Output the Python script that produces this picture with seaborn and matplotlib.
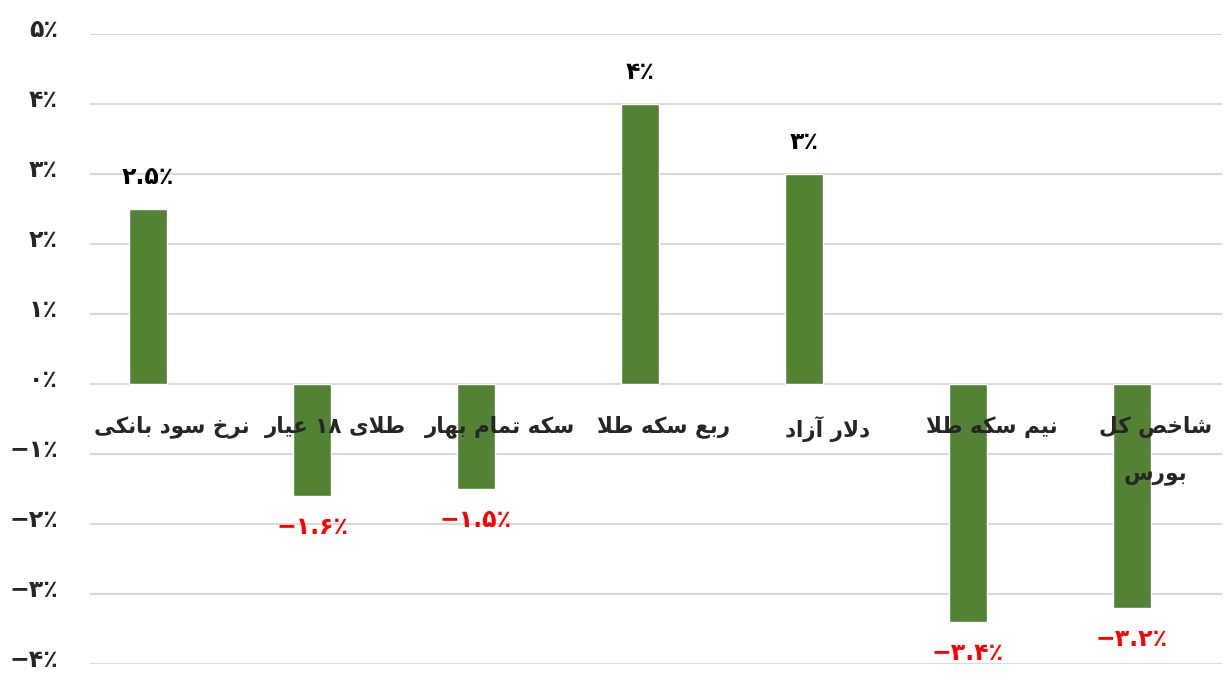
import re
import numpy as np
import pandas as pd
import matplotlib.pyplot as plt
import matplotlib.transforms as mtrans
import seaborn as sns

categories = [
    "نرخ سود بانکی",
    "طلای ۱۸ عیار",
    "سکه تمام بهار",
    "ربع سکه طلا",
    "دلار آزاد",
    "نیم سکه طلا",
    "شاخص کل\nبورس",
]
values = [2.5, -1.6, -1.5, 4, 3, -3.4, -3.2]
yticks = [-4, -3, -2, -1, 0, 1, 2, 3, 4, 5]

bar_color = "#548235"
grid_color = "#d9d9d9"

# presentation forms: isolated, final, initial, medial
FORMS = {
    '\u0627': ('\uFE8D', '\uFE8E', None, None),
    '\u0622': ('\uFE81', '\uFE82', None, None),
    '\u0628': ('\uFE8F', '\uFE90', '\uFE91', '\uFE92'),
    '\u062A': ('\uFE95', '\uFE96', '\uFE97', '\uFE98'),
    '\u062E': ('\uFEA5', '\uFEA6', '\uFEA7', '\uFEA8'),
    '\u062F': ('\uFEA9', '\uFEAA', None, None),
    '\u0631': ('\uFEAD', '\uFEAE', None, None),
    '\u0632': ('\uFEAF', '\uFEB0', None, None),
    '\u0633': ('\uFEB1', '\uFEB2', '\uFEB3', '\uFEB4'),
    '\u0634': ('\uFEB5', '\uFEB6', '\uFEB7', '\uFEB8'),
    '\u0635': ('\uFEB9', '\uFEBA', '\uFEBB', '\uFEBC'),
    '\u0637': ('\uFEC1', '\uFEC2', '\uFEC3', '\uFEC4'),
    '\u0639': ('\uFEC9', '\uFECA', '\uFECB', '\uFECC'),
    '\u0644': ('\uFEDD', '\uFEDE', '\uFEDF', '\uFEE0'),
    '\u0645': ('\uFEE1', '\uFEE2', '\uFEE3', '\uFEE4'),
    '\u0646': ('\uFEE5', '\uFEE6', '\uFEE7', '\uFEE8'),
    '\u0647': ('\uFEE9', '\uFEEA', '\uFEEB', '\uFEEC'),
    '\u0648': ('\uFEED', '\uFEEE', None, None),
    '\u06A9': ('\uFB8E', '\uFB8F', '\uFB90', '\uFB91'),
    '\u06CC': ('\uFBFC', '\uFBFD', '\uFBFE', '\uFBFF'),
    '\u0644\u0627': ('\uFEFB', '\uFEFC', None, None),
}


def shape_line(text):
    text = text.replace('\u0643', '\u06A9').replace('\u064A', '\u06CC')
    toks = []
    i = 0
    while i < len(text):
        if text[i] == '\u0644' and i + 1 < len(text) and text[i + 1] == '\u0627':
            toks.append('\u0644\u0627')
            i += 2
        else:
            toks.append(text[i])
            i += 1
    out = []
    for k, t in enumerate(toks):
        if t not in FORMS:
            out.append(t)
            continue
        f = FORMS[t]
        prev = toks[k - 1] if k > 0 else None
        nxt = toks[k + 1] if k + 1 < len(toks) else None
        jp = prev in FORMS and FORMS[prev][2] is not None
        jn = f[2] is not None and nxt in FORMS
        if jp and jn:
            out.append(f[3])
        elif jp:
            out.append(f[1])
        elif jn:
            out.append(f[2])
        else:
            out.append(f[0])
    vis = ''.join(reversed(out))
    return re.sub('[0-9\u06F0-\u06F9]+', lambda m: m.group(0)[::-1], vis)


def shape(text):
    return '\n'.join(shape_line(l) for l in text.split('\n'))


def fa_pct(v):
    s = f"{abs(v):g}"
    s = s.translate(str.maketrans("0123456789", "۰۱۲۳۴۵۶۷۸۹"))
    return ("\u2212" if v < 0 else "") + s + "٪"


sns.set_style("white")
plt.rcParams['font.family'] = ['DejaVu Sans']

df = pd.DataFrame({"cat": categories, "val": values})

fig = plt.figure(figsize=(12.24, 6.74), dpi=100)
ax = fig.add_axes([0.0735, 0.0148, 0.925, 0.9348])
sns.barplot(data=df, x="cat", y="val", color=bar_color, width=0.235,
            saturation=1, ax=ax, zorder=3)

ax.set_ylim(-4, 5)
ax.set_xlim(-0.354, 6.55)
ax.set_yticks(yticks)
ax.set_yticklabels([])
ax.set_xticks([])
ax.set_xlabel(None)
ax.set_ylabel(None)
ax.tick_params(axis='y', length=0)
ax.grid(axis='y', color=grid_color, linewidth=1.5, zorder=0)
for s in ax.spines.values():
    s.set_visible(False)

# y labels drawn by hand, a bit above their gridlines like the original
ytrans = mtrans.blended_transform_factory(ax.transAxes, ax.transData)
ytrans = ytrans + mtrans.ScaledTranslation(-0.32, 0.04, fig.dpi_scale_trans)
for t in yticks:
    ax.text(0, t, fa_pct(t), transform=ytrans, ha='right', va='center',
            fontsize=17, fontweight='bold', clip_on=False)

for i, v in enumerate(values):
    off = 23 if v > 0 else -22
    ax.annotate(fa_pct(v), (i, v), xytext=(0, off), textcoords='offset points',
                ha='center', va='center', fontsize=17, fontweight='bold',
                color='black' if v > 0 else 'red')
    ax.text(i + 0.146, -0.45, shape(categories[i]), ha='center', va='top',
            fontsize=15.5, fontweight='bold', linespacing=2.7, zorder=5)

fig.savefig("out.png", dpi=100)
